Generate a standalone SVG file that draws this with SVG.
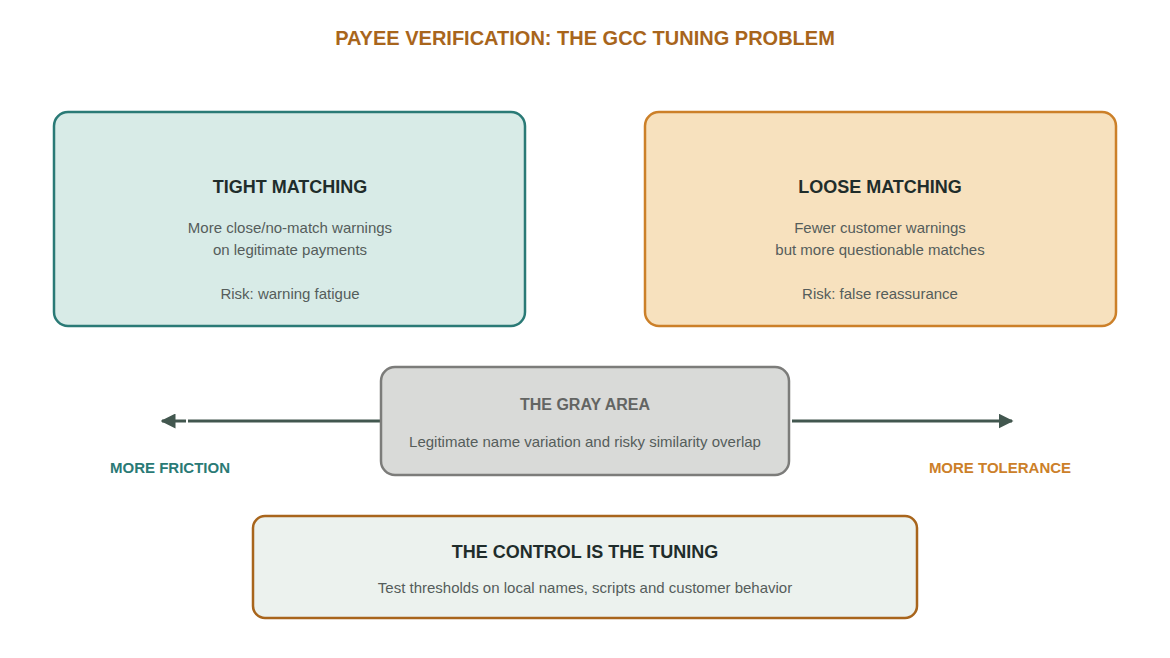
<svg xmlns="http://www.w3.org/2000/svg" width="1170" height="658" viewBox="0 0 1170 658">
<defs>
<style>
text{font-family:"Liberation Sans",Arial,sans-serif;text-anchor:middle}
.h{font-weight:bold;font-size:18px;fill:#1f2d2b}
.b{font-size:15px;fill:#555d5b}
.c{stroke:#42574f;stroke-width:3;fill:none}
</style>
<marker id="ah" viewBox="0 0 10 10" refX="9" refY="5" markerWidth="5" markerHeight="5" orient="auto-start-reverse" markerUnits="strokeWidth"><path d="M0,0L10,5L0,10z" fill="#42574f"/></marker>
</defs>
<rect width="1170" height="658" fill="#fff"/>
<text x="585" y="45" style="font-weight:bold;font-size:20px;fill:#a8651c">PAYEE VERIFICATION: THE GCC TUNING PROBLEM</text>
<g id="tight">
<rect x="54" y="112" width="471" height="214" rx="14" fill="#d8ebe7" stroke="#2a7a76" stroke-width="2.5"/>
<text class="h" x="290" y="193">TIGHT MATCHING</text>
<text class="b" x="290" y="233">More close/no-match warnings</text>
<text class="b" x="290" y="255">on legitimate payments</text>
<text class="b" x="290" y="299">Risk: warning fatigue</text>
</g>
<g id="loose">
<rect x="645" y="112" width="471" height="214" rx="14" fill="#f7e1be" stroke="#cc8029" stroke-width="2.5"/>
<text class="h" x="880" y="193">LOOSE MATCHING</text>
<text class="b" x="880" y="233">Fewer customer warnings</text>
<text class="b" x="880" y="255">but more questionable matches</text>
<text class="b" x="880" y="299">Risk: false reassurance</text>
</g>
<g id="connectors">
<line class="c" x1="380" y1="421" x2="162" y2="421" marker-end="url(#ah)"/>
<line x1="186" y1="421" x2="188" y2="421" stroke="#fff" stroke-width="4"/>
<line class="c" x1="792" y1="421" x2="1012" y2="421" marker-end="url(#ah)"/>
</g>
<g id="gray">
<rect x="381" y="367" width="408" height="108" rx="14" fill="#d9dad8" stroke="#7c7c7a" stroke-width="2.5"/>
<text x="585" y="410" style="font-weight:bold;font-size:16px;fill:#636563">THE GRAY AREA</text>
<text class="b" x="585" y="447">Legitimate name variation and risky similarity overlap</text>
</g>
<text x="170" y="473" style="font-weight:bold;font-size:15px;fill:#2a7a76">MORE FRICTION</text>
<text x="1000" y="473" style="font-weight:bold;font-size:15px;fill:#cc8029">MORE TOLERANCE</text>
<g id="control">
<rect x="253" y="516" width="664" height="102" rx="12" fill="#ecf2ee" stroke="#a8651c" stroke-width="2.5"/>
<text class="h" x="585" y="558">THE CONTROL IS THE TUNING</text>
<text class="b" x="585" y="593">Test thresholds on local names, scripts and customer behavior</text>
</g>
</svg>
